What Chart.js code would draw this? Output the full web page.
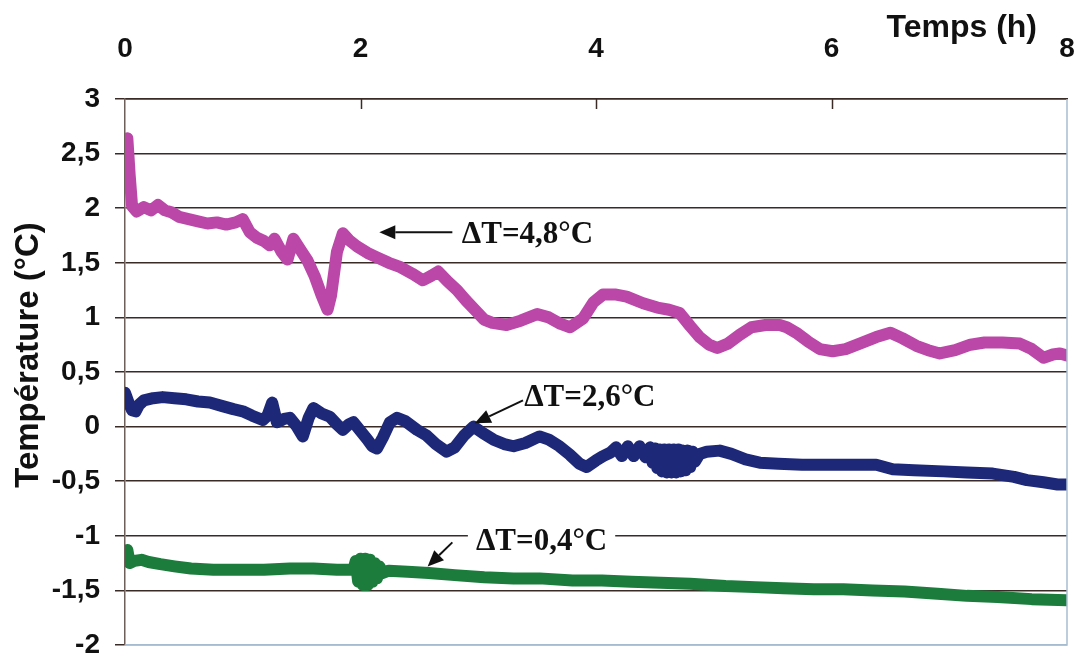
<!DOCTYPE html>
<html>
<head>
<meta charset="utf-8">
<script src="https://cdn.jsdelivr.net/npm/chart.js@4.4.1/dist/chart.umd.min.js"></script>
<style>
  html, body { margin: 0; padding: 0; background: #fff; }
  #wrap { width: 1082px; height: 660px; }
</style>
</head>
<body>
<div id="wrap"><canvas id="chart" width="1082" height="660"></canvas></div>
<script>
// axis ticks
const xTicks = [0, 2, 4, 6, 8];
const yTicks = [-2, -1.5, -1, -0.5, 0, 0.5, 1, 1.5, 2, 2.5, 3];

// magenta curve (time in h, temperature in °C)
const timeMagenta = [0.00, 0.02, 0.04, 0.06, 0.10, 0.16, 0.22, 0.28, 0.34, 0.40, 0.46, 0.54, 0.62, 0.70, 0.78, 0.86, 0.94, 1.00,
  1.06, 1.12, 1.18, 1.23, 1.27, 1.33, 1.38, 1.43, 1.49, 1.55, 1.61, 1.67, 1.72, 1.75, 1.80, 1.85, 1.90, 1.97,
  2.06, 2.14, 2.24, 2.34, 2.44, 2.53, 2.60, 2.66, 2.74, 2.82, 2.90, 2.98, 3.05, 3.12, 3.24, 3.36, 3.50, 3.60,
  3.70, 3.78, 3.89, 3.98, 4.06, 4.16, 4.26, 4.40, 4.52, 4.62, 4.71, 4.80, 4.88, 4.96, 5.03, 5.12, 5.22, 5.32,
  5.44, 5.56, 5.62, 5.70, 5.80, 5.90, 6.01, 6.12, 6.24, 6.38, 6.50, 6.60, 6.72, 6.82, 6.92, 7.05, 7.18, 7.30,
  7.45, 7.60, 7.70, 7.80, 7.88, 7.94, 8.00];
const tempMagenta = [2.55, 2.64, 2.30, 2.02, 1.97, 2.01, 1.98, 2.03, 1.98, 1.96, 1.92, 1.90, 1.88, 1.86, 1.87, 1.85, 1.87, 1.90,
  1.78, 1.73, 1.70, 1.66, 1.72, 1.60, 1.53, 1.72, 1.62, 1.52, 1.38, 1.20, 1.07, 1.20, 1.60, 1.77, 1.71, 1.65,
  1.59, 1.55, 1.50, 1.46, 1.40, 1.34, 1.38, 1.42, 1.33, 1.25, 1.15, 1.06, 0.98, 0.95, 0.93, 0.97, 1.03, 1.00,
  0.94, 0.91, 0.99, 1.14, 1.21, 1.21, 1.19, 1.13, 1.09, 1.07, 1.04, 0.92, 0.82, 0.75, 0.72, 0.76, 0.84, 0.91,
  0.93, 0.93, 0.91, 0.86, 0.78, 0.71, 0.69, 0.71, 0.76, 0.82, 0.86, 0.81, 0.74, 0.70, 0.67, 0.70, 0.75, 0.77,
  0.77, 0.76, 0.71, 0.63, 0.66, 0.67, 0.65];

// dark blue curve
const timeBlue = [0.00, 0.03, 0.06, 0.09, 0.12, 0.16, 0.24, 0.32, 0.42, 0.52, 0.62, 0.72, 0.82, 0.92, 1.00, 1.08, 1.17, 1.21,
  1.25, 1.29, 1.35, 1.40, 1.46, 1.51, 1.56, 1.60, 1.67, 1.74, 1.80, 1.85, 1.90, 1.94, 2.00, 2.06, 2.10, 2.14,
  2.19, 2.25, 2.31, 2.38, 2.48, 2.56, 2.64, 2.73, 2.80, 2.88, 2.96, 3.04, 3.13, 3.22, 3.30, 3.40, 3.52, 3.60,
  3.69, 3.78, 3.86, 3.92, 4.00, 4.06, 4.12, 4.17, 4.22, 4.27, 4.32, 4.37, 4.42, 4.46, 4.48, 4.50, 4.52, 4.54,
  4.56, 4.58, 4.60, 4.62, 4.64, 4.66, 4.68, 4.70, 4.72, 4.74, 4.76, 4.78, 4.80, 4.82, 4.84, 4.88, 4.94, 5.05,
  5.15, 5.27, 5.39, 5.55, 5.75, 5.96, 6.15, 6.38, 6.52, 6.70, 6.95, 7.15, 7.37, 7.55, 7.66, 7.80, 7.92, 8.00];
const tempBlue = [0.31, 0.22, 0.15, 0.14, 0.20, 0.24, 0.26, 0.27, 0.26, 0.25, 0.23, 0.22, 0.19, 0.16, 0.14, 0.10, 0.06, 0.10,
  0.22, 0.04, 0.07, 0.08, 0.00, -0.09, 0.08, 0.17, 0.12, 0.09, 0.02, -0.03, 0.02, 0.04, -0.04, -0.12, -0.18, -0.20,
  -0.10, 0.04, 0.08, 0.05, -0.03, -0.08, -0.16, -0.23, -0.19, -0.08, 0.00, -0.06, -0.12, -0.16, -0.18, -0.15, -0.09, -0.12,
  -0.18, -0.26, -0.34, -0.37, -0.31, -0.27, -0.24, -0.19, -0.27, -0.18, -0.27, -0.18, -0.28, -0.19, -0.33, -0.20, -0.38, -0.21,
  -0.41, -0.21, -0.42, -0.21, -0.42, -0.21, -0.42, -0.21, -0.41, -0.22, -0.40, -0.22, -0.37, -0.23, -0.32, -0.25, -0.23, -0.22,
  -0.25, -0.30, -0.33, -0.34, -0.35, -0.35, -0.35, -0.35, -0.39, -0.40, -0.41, -0.42, -0.43, -0.46, -0.49, -0.51, -0.53, -0.53];

// green curve
const timeGreen = [0.00, 0.02, 0.04, 0.08, 0.14, 0.20, 0.30, 0.42, 0.56, 0.75, 0.95, 1.18, 1.40, 1.60, 1.80, 1.94,
  1.96, 1.98, 2.00, 2.02, 2.04, 2.06, 2.08, 2.10, 2.12, 2.14, 2.16, 2.19, 2.24, 2.40, 2.58, 2.80, 3.05, 3.30,
  3.52, 3.80, 4.05, 4.30, 4.55, 4.80, 5.10, 5.35, 5.59, 5.85, 6.10, 6.35, 6.62, 6.90, 7.15, 7.41, 7.70, 8.00];
const tempGreen = [-1.14, -1.13, -1.25, -1.23, -1.22, -1.24, -1.26, -1.28, -1.30, -1.31, -1.31, -1.31, -1.30, -1.30, -1.31, -1.31,
  -1.23, -1.42, -1.21, -1.45, -1.21, -1.45, -1.22, -1.42, -1.25, -1.39, -1.28, -1.34, -1.32, -1.33, -1.34, -1.36, -1.38, -1.39,
  -1.39, -1.41, -1.41, -1.42, -1.43, -1.44, -1.46, -1.47, -1.48, -1.49, -1.49, -1.50, -1.51, -1.53, -1.55, -1.56, -1.58, -1.59];

// annotations, anchored in data units (h, °C)
const notes = [
  { text: 'ΔT=4,8°C', at: [2.86, 1.76], from: [2.78, 1.78], to: [2.16, 1.78] },
  { text: 'ΔT=2,6°C', at: [3.39, 0.27], from: [3.38, 0.24], to: [2.97, 0.03] },
  { text: 'ΔT=0,4°C', at: [2.98, -1.05], from: [2.78, -1.06], to: [2.57, -1.28] }
];

const toPoints = (t, v) => t.map((x, i) => ({ x: x, y: v[i] }));

const gridColor = '#3b2b27';
const tickFont = { family: '"Liberation Sans", Arial, sans-serif', size: 28, weight: 'bold' };

const decorations = {
  id: 'decorations',
  afterDraw(chart) {
    const { ctx, chartArea: a, scales: { x, y } } = chart;
    ctx.save();

    // right and bottom frame
    ctx.strokeStyle = '#a9bdd0';
    ctx.lineWidth = 1.5;
    ctx.beginPath();
    ctx.moveTo(a.right, a.top);
    ctx.lineTo(a.right, a.bottom);
    ctx.lineTo(a.left, a.bottom);
    ctx.stroke();

    // tick marks pointing into the plot from the top axis
    ctx.strokeStyle = gridColor;
    ctx.lineWidth = 1.5;
    xTicks.forEach(t => {
      if (t === x.min || t === x.max) return;
      const px = Math.round(x.getPixelForValue(t)) + 0.5;
      ctx.beginPath();
      ctx.moveTo(px, a.top);
      ctx.lineTo(px, a.top + 10);
      ctx.stroke();
    });

    // axis titles
    ctx.fillStyle = '#111';
    ctx.font = 'bold 32px "Liberation Sans", Arial, sans-serif';
    ctx.textAlign = 'right';
    ctx.textBaseline = 'alphabetic';
    ctx.fillText('Temps (h)', a.right - 30, 37);

    ctx.save();
    ctx.translate(38, (a.top + a.bottom) / 2 - 17);
    ctx.rotate(-Math.PI / 2);
    ctx.font = 'bold 33px "Liberation Sans", Arial, sans-serif';
    ctx.textAlign = 'center';
    ctx.fillText('Température (°C)', 0, 0);
    ctx.restore();

    // annotations
    ctx.font = 'bold 31px "Liberation Serif", "Times New Roman", serif';
    notes.forEach(n => {
      const lx = x.getPixelForValue(n.at[0]);
      const ly = y.getPixelForValue(n.at[1]);
      const w = ctx.measureText(n.text).width;
      ctx.fillStyle = '#fff';
      ctx.fillRect(lx - 8, ly - 16, w + 16, 32);
      ctx.fillStyle = '#111';
      ctx.textAlign = 'left';
      ctx.textBaseline = 'middle';
      ctx.fillText(n.text, lx, ly + 1);

      const x1 = x.getPixelForValue(n.from[0]), y1 = y.getPixelForValue(n.from[1]);
      const x2 = x.getPixelForValue(n.to[0]), y2 = y.getPixelForValue(n.to[1]);
      const ang = Math.atan2(y2 - y1, x2 - x1);
      const head = 16, half = 7;
      const bx = x2 - head * Math.cos(ang), by = y2 - head * Math.sin(ang);
      ctx.strokeStyle = '#111';
      ctx.lineWidth = 2;
      ctx.beginPath();
      ctx.moveTo(x1, y1);
      ctx.lineTo(bx, by);
      ctx.stroke();
      ctx.beginPath();
      ctx.moveTo(x2, y2);
      ctx.lineTo(bx + half * Math.sin(ang), by - half * Math.cos(ang));
      ctx.lineTo(bx - half * Math.sin(ang), by + half * Math.cos(ang));
      ctx.closePath();
      ctx.fill();
    });

    ctx.restore();
  }
};

const lineStyle = {
  borderWidth: 12,
  pointRadius: 0,
  tension: 0,
  fill: false,
  borderJoinStyle: 'round',
  borderCapStyle: 'round'
};

new Chart(document.getElementById('chart'), {
  type: 'line',
  data: {
    datasets: [
      Object.assign({ label: 'ΔT=4,8°C', data: toPoints(timeMagenta, tempMagenta), borderColor: '#bb48a8' }, lineStyle),
      Object.assign({ label: 'ΔT=2,6°C', data: toPoints(timeBlue, tempBlue), borderColor: '#1e2878' }, lineStyle),
      Object.assign({ label: 'ΔT=0,4°C', data: toPoints(timeGreen, tempGreen), borderColor: '#1b7c3c' }, lineStyle)
    ]
  },
  options: {
    responsive: false,
    animation: false,
    layout: { padding: { left: 0, top: 0, right: 15, bottom: 15 } },
    plugins: {
      legend: { display: false },
      tooltip: { enabled: false }
    },
    scales: {
      x: {
        type: 'linear',
        position: 'top',
        min: 0,
        max: 8,
        afterBuildTicks: s => { s.ticks = xTicks.map(v => ({ value: v })); },
        afterFit: s => { s.height = 99; s.paddingLeft = 0; s.paddingRight = 0; },
        grid: { drawOnChartArea: false, drawTicks: false },
        border: { display: true, color: gridColor, width: 1.5 },
        ticks: { color: '#111', font: tickFont, padding: 33, maxRotation: 0 }
      },
      y: {
        min: -2,
        max: 3,
        afterBuildTicks: s => { s.ticks = yTicks.map(v => ({ value: v })); },
        afterFit: s => { s.width = 125; s.paddingTop = 0; s.paddingBottom = 0; },
        grid: {
          color: c => (c.tick && c.tick.value === -2 ? '#9fb6cc' : gridColor),
          lineWidth: 1.5,
          tickLength: 10,
          tickColor: gridColor
        },
        border: { display: true, color: '#6e5f5a', width: 1.5 },
        ticks: {
          color: '#111',
          font: tickFont,
          padding: 15,
          callback: v => String(v).replace('.', ',')
        }
      }
    }
  },
  plugins: [decorations]
});
</script>
</body>
</html>
